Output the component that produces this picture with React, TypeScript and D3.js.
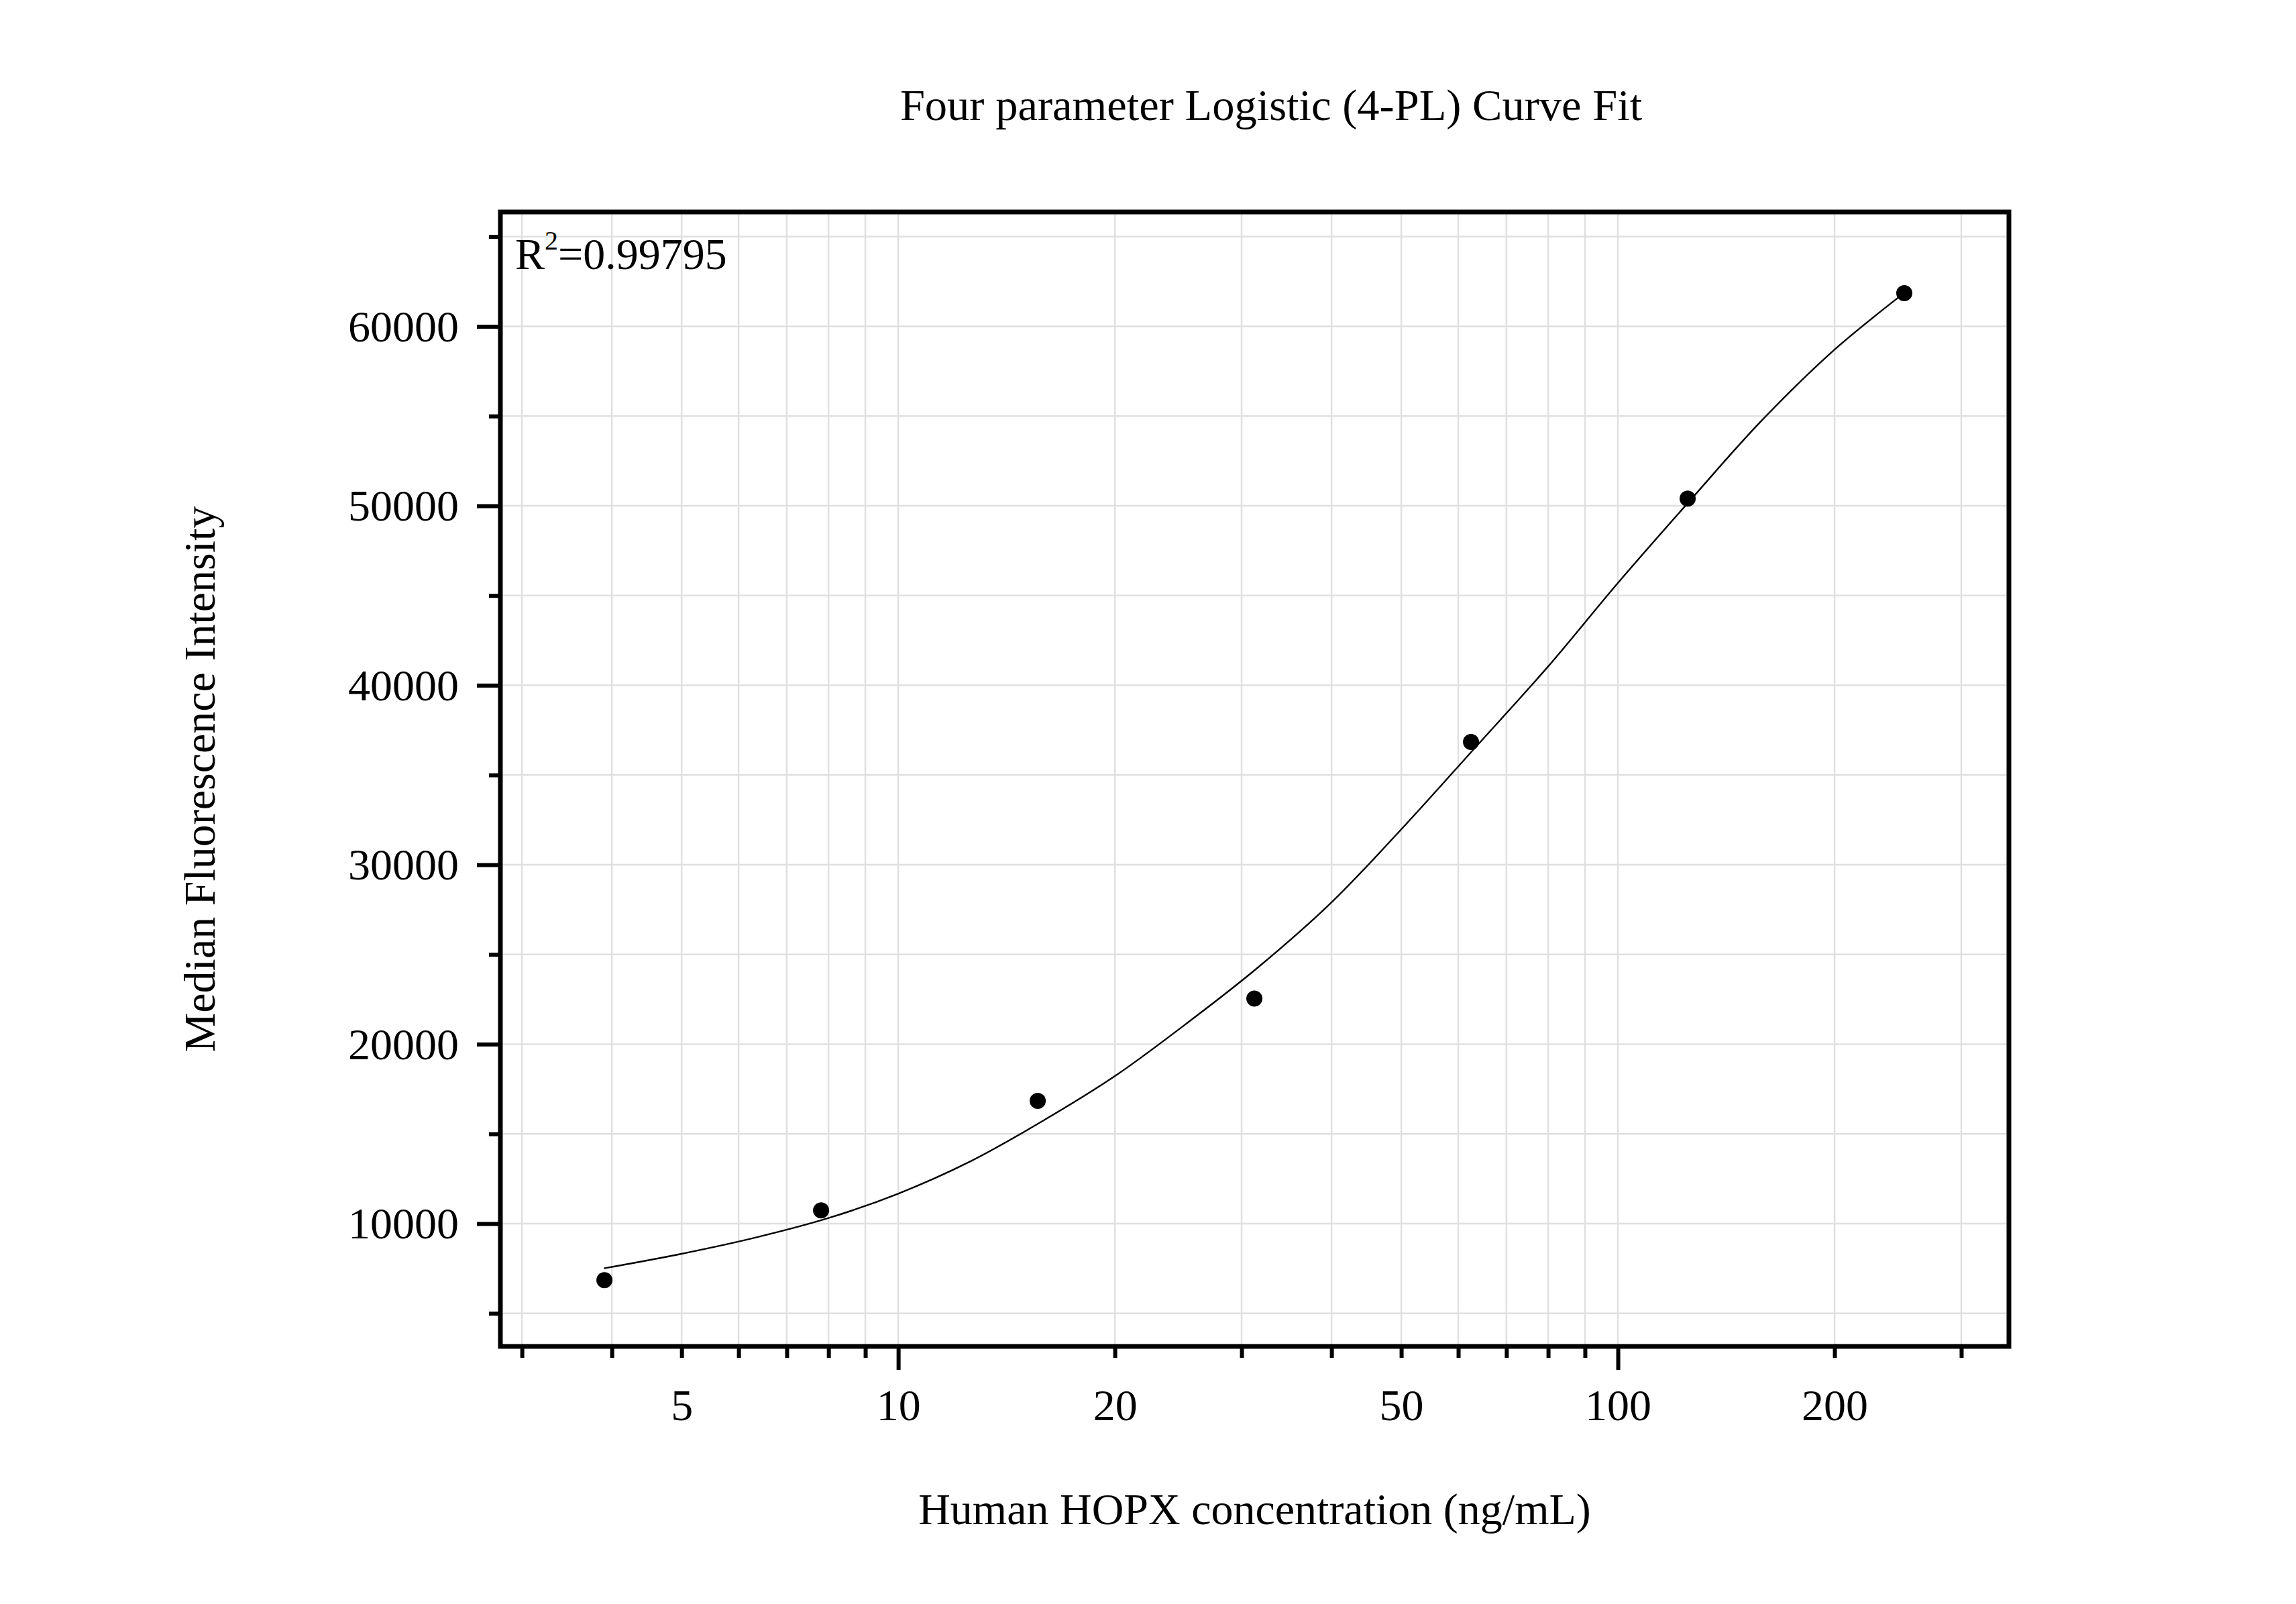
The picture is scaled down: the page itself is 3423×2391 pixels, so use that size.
import { useEffect, useRef } from 'react'
import * as d3 from 'd3'

// measured standards (ng/mL) and their MFI
const CONC = [3.90625, 7.8125, 15.625, 31.25, 62.5, 125, 250]
const MFI = [6850, 10740, 16840, 22540, 36840, 50400, 61850]

// fitted 4-PL curve
const FIT_CONC = [3.9, 5, 6.3, 8, 10, 12.6, 15.8, 20, 25, 31.6, 40, 50, 63, 80, 100, 126, 158, 200, 250]
const FIT_MFI = [7510, 8320, 9200, 10310, 11670, 13470, 15670, 18220, 21070, 24270, 27900, 31970, 36420, 41050, 45700, 50300, 54700, 58700, 61860]

const X_MAJOR = [10, 100]
const X_MINOR = [3, 4, 5, 6, 7, 8, 9, 20, 30, 40, 50, 60, 70, 80, 90, 200, 300]
const X_LABELS = [5, 10, 20, 50, 100, 200]
const Y_MAJOR = [10000, 20000, 30000, 40000, 50000, 60000]
const Y_MINOR = [5000, 15000, 25000, 35000, 45000, 55000, 65000]

const TITLE = 'Four parameter Logistic (4-PL) Curve Fit'
const X_TITLE = 'Human HOPX concentration (ng/mL)'
const Y_TITLE = 'Median Fluorescence Intensity'
const R2 = '0.99795'

const WIDTH = 3423
const HEIGHT = 2391
const PLOT = { left: 746, top: 316, right: 2995, bottom: 2007 }
const FONT = '"Liberation Serif", "Times New Roman", serif'
const GRID = '#e0e0e0'

export default function App() {
  const svgRef = useRef<SVGSVGElement>(null)

  useEffect(() => {
    if (!svgRef.current) return
    const svg = d3.select(svgRef.current)
    svg.selectAll('*').remove()

    const innerW = PLOT.right - PLOT.left
    const innerH = PLOT.bottom - PLOT.top

    const x = d3.scaleLog().domain([2.8, 349.4]).range([0, innerW])
    const y = d3.scaleLinear().domain([3160, 66370]).range([innerH, 0])

    svg.append('rect').attr('width', WIDTH).attr('height', HEIGHT).attr('fill', '#fff')

    const g = svg.append('g').attr('transform', `translate(${PLOT.left},${PLOT.top})`)

    // grid
    const grid = g.append('g').attr('stroke', GRID).attr('stroke-width', 2.5)
    grid.selectAll('line.v')
      .data([...X_MINOR, ...X_MAJOR].filter(v => x(v) > 0 && x(v) < innerW))
      .join('line')
      .attr('x1', d => x(d)).attr('x2', d => x(d))
      .attr('y1', 0).attr('y2', innerH)
    grid.selectAll('line.h')
      .data([...Y_MINOR, ...Y_MAJOR])
      .join('line')
      .attr('x1', 0).attr('x2', innerW)
      .attr('y1', d => y(d)).attr('y2', d => y(d))

    // fitted curve
    const line = d3.line<number>()
      .x((_, i) => x(FIT_CONC[i]))
      .y(d => y(d))
      .curve(d3.curveCatmullRom.alpha(0.5))
    g.append('path')
      .attr('d', line(FIT_MFI))
      .attr('fill', 'none')
      .attr('stroke', '#000')
      .attr('stroke-width', 2.4)

    // points
    g.selectAll('circle')
      .data(MFI)
      .join('circle')
      .attr('cx', (_, i) => x(CONC[i]))
      .attr('cy', d => y(d))
      .attr('r', 12)
      .attr('fill', '#000')

    // x ticks
    const styleTicks = (sel: d3.Selection<SVGGElement, unknown, null, undefined>) => {
      sel.select('.domain').remove()
      sel.selectAll('line').attr('stroke', '#000').attr('stroke-width', 6)
      sel.selectAll('text').remove()
    }
    g.append('g')
      .attr('transform', `translate(0,${innerH})`)
      .call(d3.axisBottom(x).tickValues(X_MINOR.filter(v => x(v) < innerW)).tickSize(17))
      .call(styleTicks)
    g.append('g')
      .attr('transform', `translate(0,${innerH})`)
      .call(d3.axisBottom(x).tickValues(X_MAJOR).tickSize(35))
      .call(styleTicks)
    const xLab = g.append('g')
      .attr('transform', `translate(0,${innerH})`)
      .call(d3.axisBottom(x).tickValues(X_LABELS).tickSize(0).tickFormat(d => String(d)))
    xLab.select('.domain').remove()
    xLab.selectAll('line').remove()
    xLab.selectAll('text')
      .attr('y', 110).attr('dy', 0)
      .attr('fill', '#000')
      .attr('font-family', FONT).attr('font-size', 66)

    // y ticks
    g.append('g')
      .call(d3.axisLeft(y).tickValues(Y_MINOR).tickSize(17))
      .call(styleTicks)
    const yAx = g.append('g')
      .call(d3.axisLeft(y).tickValues(Y_MAJOR).tickSize(35).tickFormat(d => String(d)))
    yAx.select('.domain').remove()
    yAx.selectAll('line').attr('stroke', '#000').attr('stroke-width', 6)
    yAx.selectAll('text')
      .attr('x', -62).attr('dy', '0.33em')
      .attr('fill', '#000')
      .attr('font-family', FONT).attr('font-size', 66)

    // frame
    g.append('rect')
      .attr('width', innerW).attr('height', innerH)
      .attr('fill', 'none').attr('stroke', '#000').attr('stroke-width', 7)

    // R² annotation
    const r2 = g.append('text')
      .attr('x', 22).attr('y', 85)
      .attr('font-family', FONT).attr('font-size', 66).attr('fill', '#000')
    r2.append('tspan').text('R')
    r2.append('tspan').attr('font-size', 40).attr('dy', -29).text('2')
    r2.append('tspan').attr('dy', 29).text('=' + R2)

    // titles
    svg.append('text')
      .attr('x', 1895).attr('y', 179)
      .attr('text-anchor', 'middle')
      .attr('font-family', FONT).attr('font-size', 66.5)
      .text(TITLE)
    svg.append('text')
      .attr('x', (PLOT.left + PLOT.right) / 2).attr('y', 2272)
      .attr('text-anchor', 'middle')
      .attr('font-family', FONT).attr('font-size', 66)
      .text(X_TITLE)
    svg.append('text')
      .attr('transform', `translate(320,${(PLOT.top + PLOT.bottom) / 2}) rotate(-90)`)
      .attr('text-anchor', 'middle')
      .attr('font-family', FONT).attr('font-size', 66)
      .text(Y_TITLE)
  }, [])

  return (
    <svg
      ref={svgRef}
      width={WIDTH}
      height={HEIGHT}
      style={{ position: 'absolute', left: 0, top: 0, display: 'block' }}
    />
  )
}
